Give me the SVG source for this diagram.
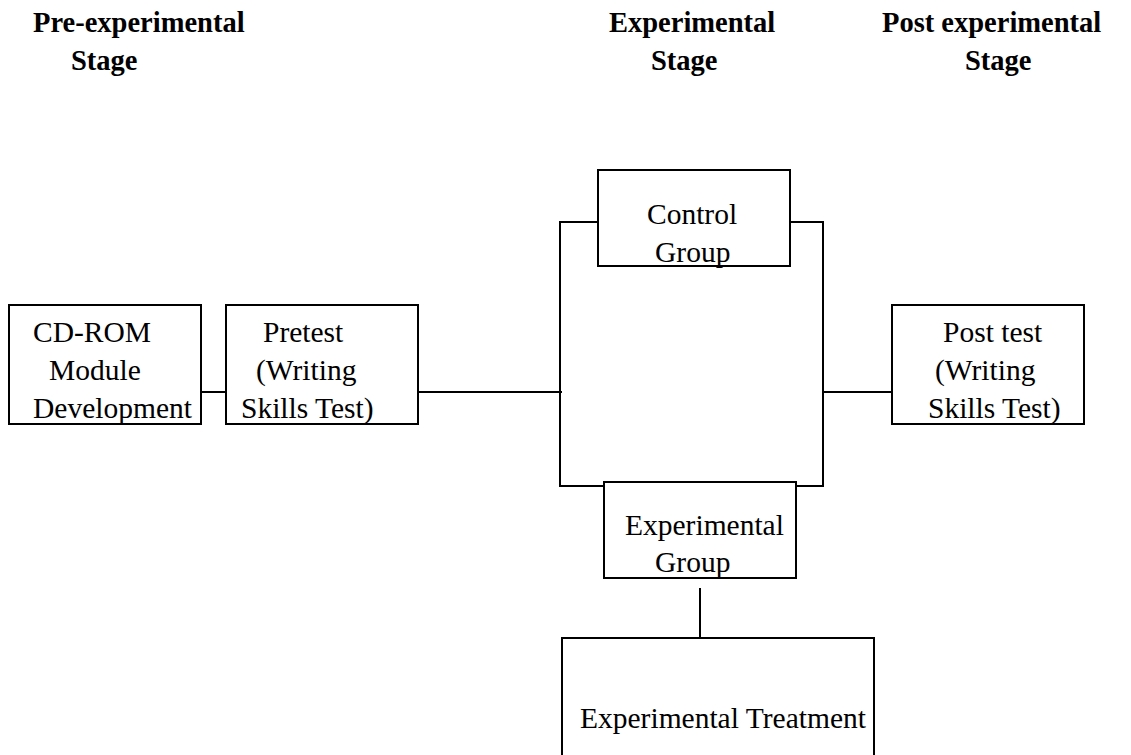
<svg xmlns="http://www.w3.org/2000/svg" width="1131" height="755" viewBox="0 0 1131 755">
<style>
rect.box{fill:#fff;stroke:#000;stroke-width:2}
.conn line,.conn path{stroke:#000;stroke-width:2;fill:none}
text{font-family:"Liberation Serif","Times New Roman",serif;font-size:29.5px;fill:#000}
text.h{font-weight:bold;font-size:28.5px}
</style>
<rect width="1131" height="755" fill="#fff"/>
<g id="headers">
<text class="h" x="33" y="32">Pre-experimental</text>
<text class="h" x="71" y="70">Stage</text>
<text class="h" x="609" y="32">Experimental</text>
<text class="h" x="651" y="70">Stage</text>
<text class="h" x="882" y="32">Post experimental</text>
<text class="h" x="965" y="70">Stage</text>
</g>
<g class="conn" id="connectors">
<line x1="201" y1="392" x2="226" y2="392"/>
<line x1="418" y1="392" x2="562" y2="392"/>
<path d="M598 222 H560 V486 H604"/>
<path d="M790 222 H823 V486 H796"/>
<line x1="822" y1="392" x2="892" y2="392"/>
<line x1="700" y1="588" x2="700" y2="638"/>
</g>
<g id="cdrom">
<rect class="box" x="9" y="305" width="192" height="119"/>
<text x="33" y="342">CD-ROM</text>
<text x="49" y="380">Module</text>
<text x="33" y="418">Development</text>
</g>
<g id="pretest">
<rect class="box" x="226" y="305" width="192" height="119"/>
<text x="263" y="342">Pretest</text>
<text x="256" y="380">(Writing</text>
<text x="241" y="418">Skills Test)</text>
</g>
<g id="control">
<rect class="box" x="598" y="170" width="192" height="96"/>
<text x="647" y="224">Control</text>
<text x="655" y="262">Group</text>
</g>
<g id="expgroup">
<rect class="box" x="604" y="482" width="192" height="96"/>
<text x="625" y="535">Experimental</text>
<text x="655" y="572">Group</text>
</g>
<g id="treatment">
<rect class="box" x="562" y="638" width="312" height="130"/>
<text x="580" y="728">Experimental Treatment</text>
</g>
<g id="posttest">
<rect class="box" x="892" y="305" width="192" height="119"/>
<text x="943" y="342">Post test</text>
<text x="935" y="380">(Writing</text>
<text x="928" y="418">Skills Test)</text>
</g>
</svg>
